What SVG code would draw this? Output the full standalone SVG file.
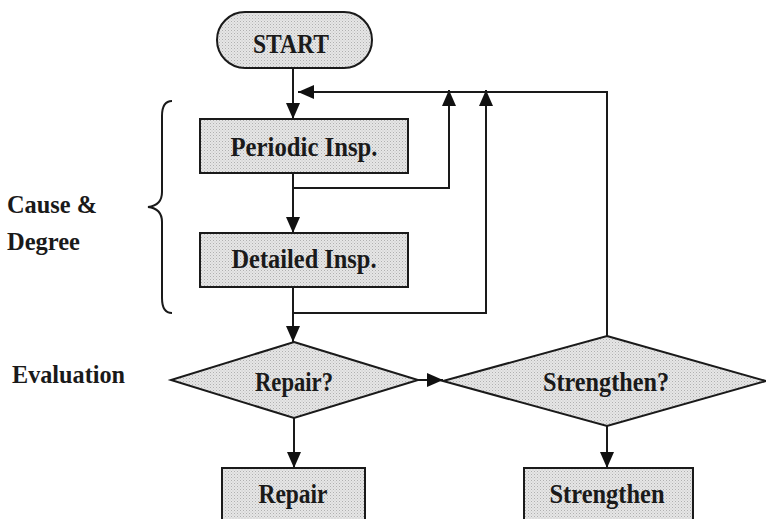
<svg xmlns="http://www.w3.org/2000/svg" width="766" height="519" viewBox="0 0 766 519">
<defs>
<pattern id="dots" width="3" height="3" patternUnits="userSpaceOnUse">
<rect width="3" height="3" fill="#e6e6e6"/>
<rect x="0" y="0" width="1" height="1" fill="#b0b0b0"/>
<rect x="1.5" y="1.5" width="1" height="1" fill="#c4c4c4"/>
</pattern>
<marker id="ah" viewBox="0 0 16 14" refX="16" refY="7" markerWidth="16" markerHeight="14" markerUnits="userSpaceOnUse" orient="auto">
<path d="M0,0 L16,7 L0,14 Z" fill="#111"/>
</marker>
</defs>
<style>
.shape{fill:url(#dots);stroke:#1a1a1a;stroke-width:2}
.lbl{font-family:"Liberation Serif","Times New Roman",serif;font-weight:bold;font-size:26.5px;fill:#1a1a1a;text-anchor:middle}
.side{font-family:"Liberation Serif","Times New Roman",serif;font-weight:bold;font-size:25px;fill:#1a1a1a}
.ln{fill:none;stroke:#1a1a1a;stroke-width:2}
</style>
<rect width="766" height="519" fill="#ffffff"/>

<g id="side-labels">
<text class="side" x="7" y="213" textLength="90" lengthAdjust="spacingAndGlyphs">Cause &amp;</text>
<text class="side" x="7" y="250" textLength="73" lengthAdjust="spacingAndGlyphs">Degree</text>
<text class="side" x="12" y="383" textLength="113" lengthAdjust="spacingAndGlyphs">Evaluation</text>
<path class="ln" d="M172,101 C165,101 162,106 162,116 L162,192 C162,201 157,206 148,207 C157,208 162,213 162,222 L162,298 C162,308 165,313 172,313" stroke-width="1.6"/>
</g>

<g id="connectors">
<line class="ln" x1="293" y1="68" x2="293" y2="119" marker-end="url(#ah)"/>
<line class="ln" x1="293" y1="173" x2="293" y2="233" marker-end="url(#ah)"/>
<polyline class="ln" points="293,188 449,188 449,90" marker-end="url(#ah)"/>
<line class="ln" x1="293" y1="287" x2="293" y2="342" marker-end="url(#ah)"/>
<polyline class="ln" points="293,313 486,313 486,90" marker-end="url(#ah)"/>
<polyline class="ln" points="607,336 607,92 298,92" marker-end="url(#ah)"/>
<line class="ln" x1="418" y1="380" x2="443" y2="380" marker-end="url(#ah)"/>
<line class="ln" x1="294" y1="418" x2="294" y2="468" marker-end="url(#ah)"/>
<line class="ln" x1="607" y1="426" x2="607" y2="468" marker-end="url(#ah)"/>
</g>

<g id="start">
<rect class="shape" x="217" y="12" width="155" height="56" rx="28" ry="28"/>
<text class="lbl" x="291" y="53" textLength="76" lengthAdjust="spacingAndGlyphs">START</text>
</g>

<g id="periodic">
<rect class="shape" x="200" y="119" width="208" height="54"/>
<text class="lbl" x="304" y="156" textLength="147" lengthAdjust="spacingAndGlyphs">Periodic Insp.</text>
</g>

<g id="detailed">
<rect class="shape" x="200" y="233" width="208" height="54"/>
<text class="lbl" x="304" y="268" textLength="145" lengthAdjust="spacingAndGlyphs">Detailed Insp.</text>
</g>

<g id="repair-q">
<polygon class="shape" points="294,342 418,380 294,418 171,380"/>
<text class="lbl" x="294" y="391" textLength="78" lengthAdjust="spacingAndGlyphs">Repair?</text>
</g>

<g id="strengthen-q">
<polygon class="shape" points="607,336 766,381 607,426 443,381"/>
<text class="lbl" x="606" y="391" textLength="126" lengthAdjust="spacingAndGlyphs">Strengthen?</text>
</g>

<g id="repair">
<rect class="shape" x="222" y="468" width="143" height="60"/>
<text class="lbl" x="293" y="503" textLength="69" lengthAdjust="spacingAndGlyphs">Repair</text>
</g>

<g id="strengthen">
<rect class="shape" x="524" y="468" width="169" height="60"/>
<text class="lbl" x="607" y="503" textLength="115" lengthAdjust="spacingAndGlyphs">Strengthen</text>
</g>
</svg>
